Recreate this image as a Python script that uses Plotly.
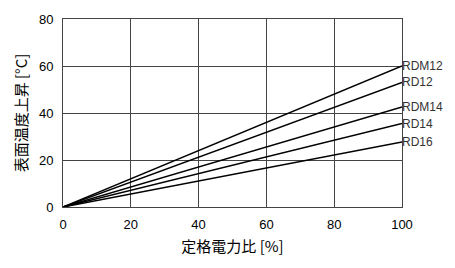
import plotly.graph_objects as go

x_vals = [0, 100]
series_names = ["RDM12", "RD12", "RDM14", "RD14", "RD16"]
series_end = [60, 53, 42.6, 35.5, 27.7]
x_ticks = [0, 20, 40, 60, 80, 100]
y_ticks = [0, 20, 40, 60, 80]

num_font = "Liberation Sans, Arial, sans-serif"
jp_font = "Noto Sans CJK JP, sans-serif"

fig = go.Figure()
for name, end in zip(series_names, series_end):
    fig.add_trace(go.Scatter(x=x_vals, y=[0, end], mode="lines", name=name,
                             line=dict(color="black", width=1.5), showlegend=False))
    fig.add_annotation(x=100, y=end, text=name, showarrow=False, xanchor="left",
                       xshift=-2, font=dict(family=num_font, size=12, color="#333"))

fig.update_layout(
    width=455, height=268,
    margin=dict(l=63, r=53, t=19, b=61),
    plot_bgcolor="white", paper_bgcolor="white",
    font=dict(family=num_font, size=13, color="black"),
)
fig.update_xaxes(range=[0, 100], tickvals=x_ticks, showgrid=True, gridcolor="#444",
                 gridwidth=1, showline=True, linecolor="#444", mirror=True, zeroline=False,
                 ticks="", ticklabelstandoff=5,
                 title=dict(text="定格電力比 [%]", standoff=10,
                            font=dict(family=jp_font, size=15, color="black")))
fig.update_yaxes(range=[0, 80], tickvals=y_ticks, showgrid=True, gridcolor="#444",
                 gridwidth=1, showline=True, linecolor="#444", mirror=True, zeroline=False,
                 ticks="", ticklabelstandoff=6,
                 title=dict(text="表面温度上昇 [°C]", standoff=7,
                            font=dict(family=jp_font, size=15, color="black")))
fig.write_html("out.html")
